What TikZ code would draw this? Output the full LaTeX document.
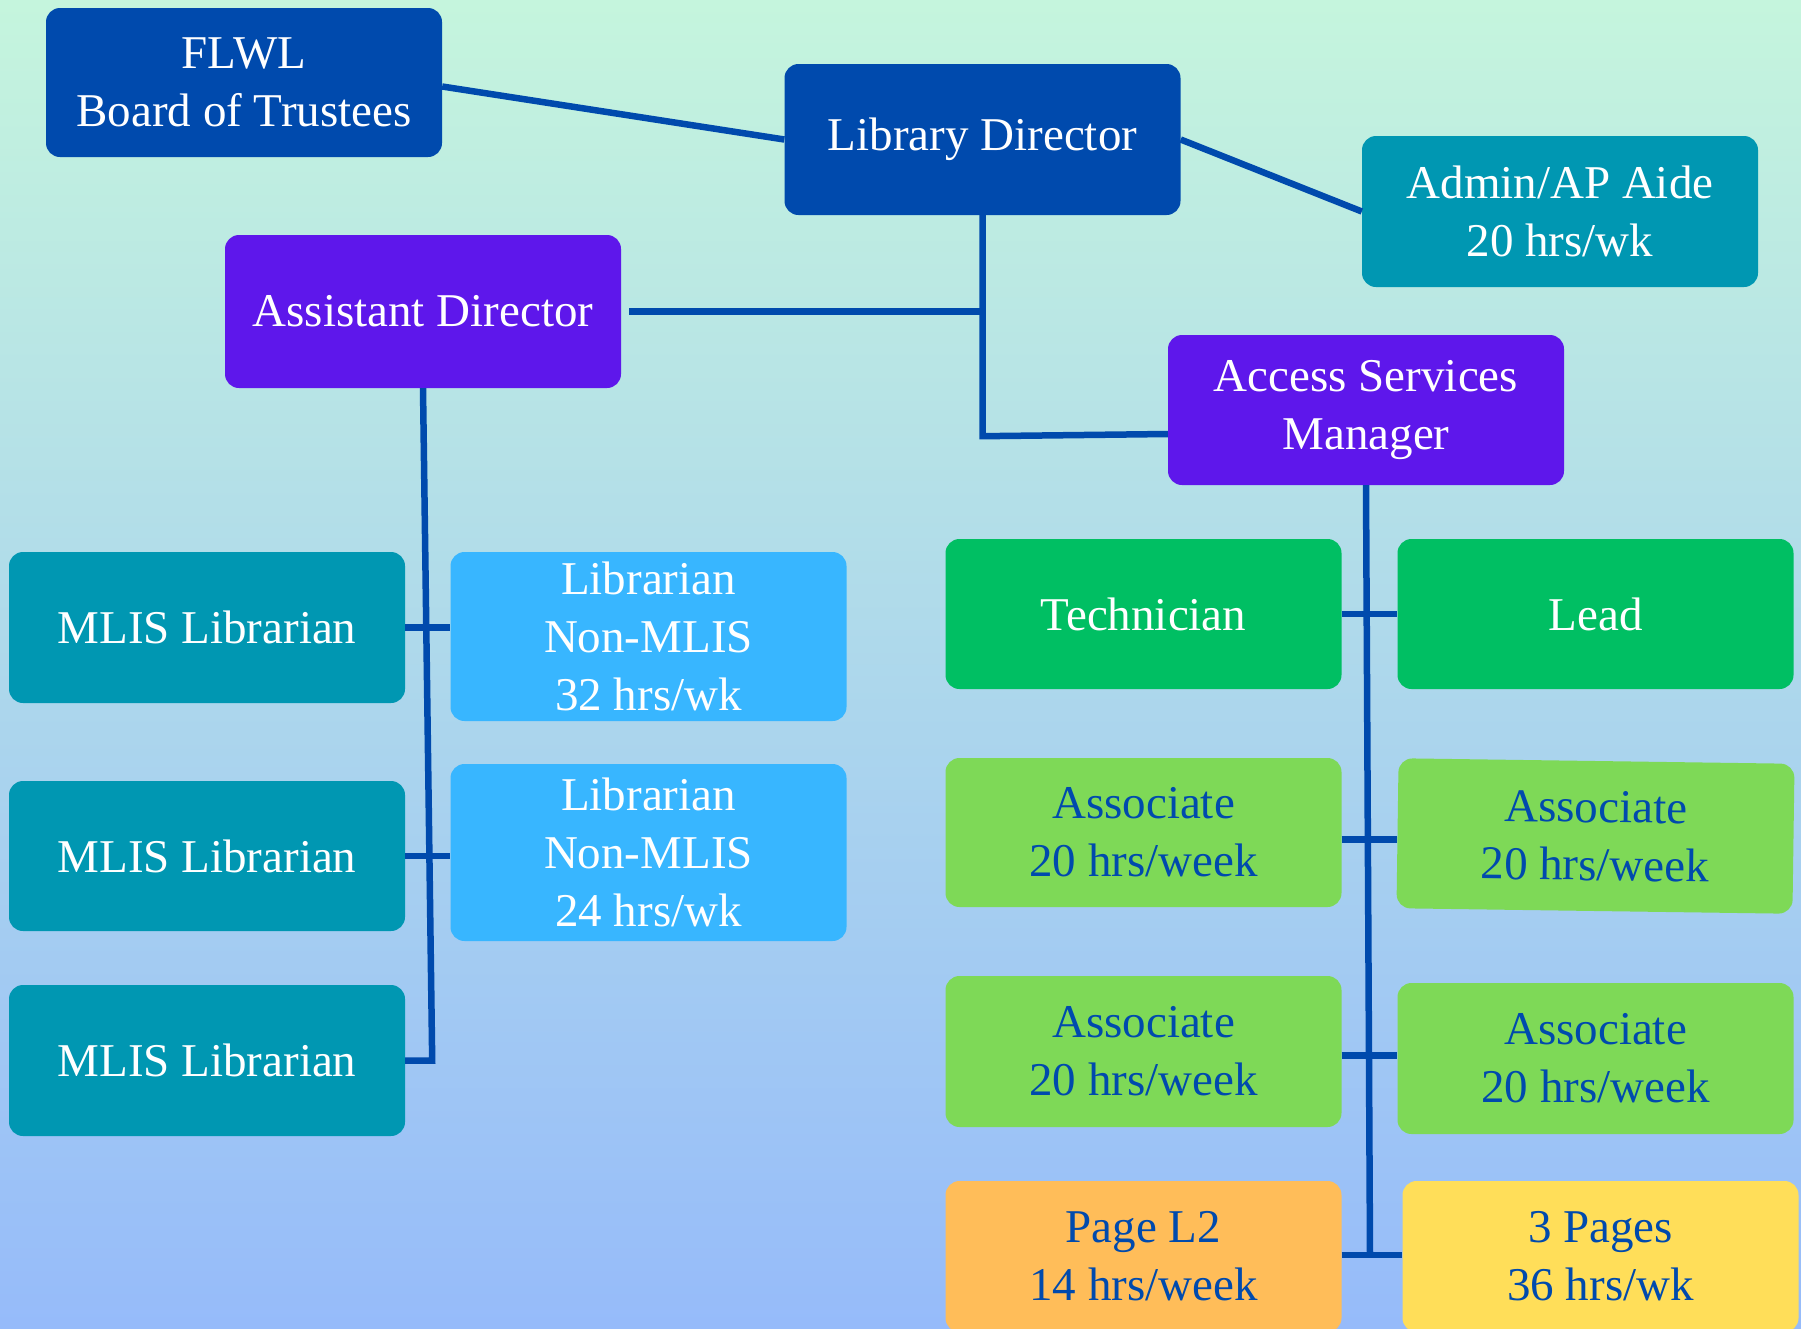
\documentclass[tikz,border=0pt]{standalone}
\usepackage{fontspec}
\setmainfont{Liberation Serif}
\usetikzlibrary{calc}
\definecolor{dblue}{HTML}{004AAD}
\definecolor{purp}{HTML}{5E17EB}
\definecolor{teal}{HTML}{0097B2}
\definecolor{lblue}{HTML}{38B6FF}
\definecolor{grn}{HTML}{00BF63}
\definecolor{lgrn}{HTML}{7ED957}
\definecolor{orng}{HTML}{FFBD59}
\definecolor{yell}{HTML}{FFDE59}
\definecolor{bgtop}{RGB}{197,245,221}
\definecolor{bgbot}{RGB}{150,187,250}
\begin{document}
\begin{tikzpicture}[x=1pt,y=-1pt,
  box/.style={rounded corners=14pt, inner sep=0pt, minimum width=396pt, minimum height=150pt,
    align=center, font=\fontsize{47}{58}\selectfont, text=white},
  darktext/.style={text=dblue},
  conn/.style={draw=dblue, line width=6.5pt}]
\useasboundingbox (0,0) rectangle (1801,1328);
\clip (0,0) rectangle (1801,1328);
\shade[top color=bgtop, bottom color=bgbot] (0,0) rectangle (1801,1328);

% top level
\node[box, fill=dblue, minimum height=149pt] (flwl) at (244,82.5) {FLWL\\Board of Trustees};
\node[box, fill=dblue, minimum height=151pt] (libdir) at (982.5,139.5) {Library Director};
\node[box, fill=teal, minimum height=151pt] (admin) at (1560,211.5) {Admin/AP Aide\\20 hrs/wk};
\node[box, fill=purp, minimum height=153pt] (asst) at (423,311.5) {Assistant Director};
\node[box, fill=purp, minimum height=150pt] (asm) at (1366,410) {Access Services\\Manager};

% left branch
\node[box, fill=teal, minimum height=151pt] (mlis1) at (207,627.5) {MLIS Librarian};
\node[box, fill=lblue, minimum height=169pt] (nonm32) at (648.5,636.5) {Librarian\\Non-MLIS\\32 hrs/wk};
\node[box, fill=teal, minimum height=150pt] (mlis2) at (207,856) {MLIS Librarian};
\node[box, fill=lblue, minimum height=177pt] (nonm24) at (648.5,852.5) {Librarian\\Non-MLIS\\24 hrs/wk};
\node[box, fill=teal, minimum height=151pt] (mlis3) at (207,1060.5) {MLIS Librarian};

% right branch
\node[box, fill=grn] (tech) at (1143.5,614) {Technician};
\node[box, fill=grn] (lead) at (1595.5,614) {Lead};
\node[box, fill=lgrn, darktext, minimum height=149pt] (assocL1) at (1143.5,832.5) {Associate\\20 hrs/week};
\node[box, fill=lgrn, darktext, rotate=-0.8] (assocR1) at (1595.5,836) {Associate\\20 hrs/week};
\node[box, fill=lgrn, darktext, minimum height=151pt] (assocL2) at (1143.5,1051.5) {Associate\\20 hrs/week};
\node[box, fill=lgrn, darktext, minimum height=151pt] (assocR2) at (1595.5,1058.5) {Associate\\20 hrs/week};
\node[box, fill=orng, darktext, minimum height=151pt] (pageL2) at (1143.5,1256.5) {Page L2\\14 hrs/week};
\node[box, fill=yell, darktext, minimum height=151pt] (pages3) at (1600.5,1256.5) {3 Pages\\36 hrs/wk};

% connectors
\coordinate (fout) at ($(flwl.east)+(0,4)$);
\draw[conn] (fout) -- (libdir.west);
\draw[conn] (libdir.east) -- (admin.west);
\coordinate (ldturn) at ($(libdir.south)+(0,221)$);
\coordinate (asmin) at ($(asm.west)+(0,24)$);
\draw[conn] (libdir.south) -- (ldturn) -- (asmin);
\coordinate (astart) at ($(asst.east)+(8,0)$);
\draw[conn] (astart) -- (libdir.south |- astart);

\coordinate (abot) at ($(mlis3.east)+(27,0)$);
\draw[conn] (asst.south) -- (abot) -- (mlis3.east);
\draw[conn] (mlis1.east) -- (nonm32.west |- mlis1.east);
\draw[conn] (mlis2.east) -- (nonm24.west |- mlis2.east);

\coordinate (sbot) at ($(asm.south)+(4,770)$);
\draw[conn] (asm.south) -- (sbot);
\draw[conn] (tech.east) -- (lead.west);
\coordinate (t1) at ($(assocL1.east)+(0,7)$);
\coordinate (t2) at ($(assocL2.east)+(0,4)$);
\coordinate (t3) at ($(pageL2.east)+(0,-1.5)$);
\draw[conn] (t1) -- (assocR1.west |- t1);
\draw[conn] (t2) -- (assocR2.west |- t2);
\draw[conn] (t3) -- (pages3.west |- t3);
\end{tikzpicture}
\end{document}
